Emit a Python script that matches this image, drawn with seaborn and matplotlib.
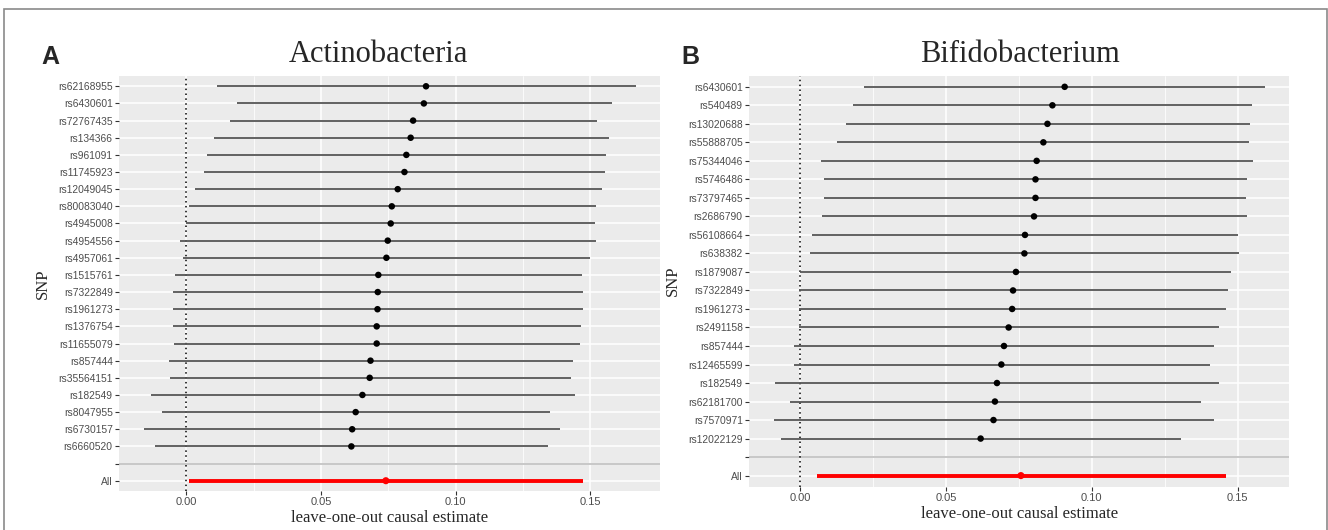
import numpy as np
import pandas as pd
import seaborn as sns
import matplotlib.pyplot as plt
from matplotlib.patches import Rectangle

# Panel A: Actinobacteria (leave-one-out estimates, top to bottom)
snp_a = ["rs62168955", "rs6430601", "rs72767435", "rs134366", "rs961091", "rs11745923",
         "rs12049045", "rs80083040", "rs4945008", "rs4954556", "rs4957061", "rs1515761",
         "rs7322849", "rs1961273", "rs1376754", "rs11655079", "rs857444", "rs35564151",
         "rs182549", "rs8047955", "rs6730157", "rs6660520"]
b_a = [0.0890, 0.0882, 0.0842, 0.0833, 0.0817, 0.0810, 0.0785, 0.0763, 0.0759, 0.0748, 0.0743,
       0.0713, 0.0711, 0.0710, 0.0707, 0.0707, 0.0684, 0.0681, 0.0654, 0.0629, 0.0616, 0.0613]
lo_a = [0.0114, 0.0188, 0.0161, 0.0103, 0.0079, 0.0068, 0.0032, 0.0009, 0.0001, -0.0024, -0.0011,
        -0.0041, -0.0048, -0.0048, -0.0047, -0.0046, -0.0063, -0.0060, -0.0130, -0.0088, -0.0156, -0.0114]
hi_a = [0.1668, 0.1579, 0.1524, 0.1568, 0.1558, 0.1554, 0.1541, 0.1520, 0.1518, 0.1522, 0.1498,
        0.1469, 0.1473, 0.1471, 0.1465, 0.1461, 0.1434, 0.1427, 0.1442, 0.1349, 0.1388, 0.1343]
all_a = (0.0741, 0.0012, 0.1473)

# Panel B: Bifidobacterium
snp_b = ["rs6430601", "rs540489", "rs13020688", "rs55888705", "rs75344046", "rs5746486",
         "rs73797465", "rs2686790", "rs56108664", "rs638382", "rs1879087", "rs7322849",
         "rs1961273", "rs2491158", "rs857444", "rs12465599", "rs182549", "rs62181700",
         "rs7570971", "rs12022129"]
b_b = [0.0907, 0.0865, 0.0848, 0.0834, 0.0811, 0.0807, 0.0807, 0.0802, 0.0771, 0.0769,
       0.0740, 0.0730, 0.0727, 0.0715, 0.0699, 0.0690, 0.0675, 0.0668, 0.0663, 0.0619]
lo_b = [0.0220, 0.0183, 0.0157, 0.0128, 0.0071, 0.0083, 0.0083, 0.0075, 0.0042, 0.0035,
        0.0001, -0.0002, -0.0002, -0.0005, -0.0021, -0.0021, -0.0086, -0.0035, -0.0091, -0.0066]
hi_b = [0.1594, 0.1550, 0.1543, 0.1540, 0.1551, 0.1531, 0.1530, 0.1531, 0.1500, 0.1503,
        0.1477, 0.1468, 0.1461, 0.1436, 0.1420, 0.1404, 0.1437, 0.1374, 0.1418, 0.1307]
all_b = (0.0757, 0.0059, 0.1459)

sns.set_theme(style="darkgrid", rc={"axes.facecolor": "#EBEBEB", "grid.color": "white"})
SERIF = ["Liberation Serif", "DejaVu Serif"]
SANS = ["Liberation Sans", "DejaVu Sans"]
plt.rcParams["font.family"] = SANS

fig = plt.figure(figsize=(13.28, 5.30), dpi=100)
fig.patches.append(Rectangle((4 / 1328, -0.05), 1323 / 1328, 1 - 9 / 530 + 0.05,
                             transform=fig.transFigure, fill=False, edgecolor="#8a8a8a", lw=1.2))


def draw_panel(rect, snps, b, lo, hi, overall, xlim, title, title_x, letter, letter_x):
    ax = fig.add_axes(rect)
    n = len(snps)
    df = pd.DataFrame({"SNP": snps, "b": b, "lo": lo, "hi": hi})
    df["pos"] = np.arange(n + 1, 1, -1)
    ax.axvline(0, color="black", ls=(0, (1, 2.2)), lw=1.1, zorder=2)
    ax.hlines(df["pos"], df["lo"], df["hi"], color="#555555", lw=1.3, zorder=3)
    sns.scatterplot(data=df, x="b", y="pos", ax=ax, color="black", s=22,
                    edgecolor="none", zorder=4, legend=False)
    ax.axhline(1, color="#BEBEBE", lw=1.2, zorder=1.5)
    ax.hlines([0], [overall[1]], [overall[2]], color="#FF0000", lw=2.8, zorder=3)
    sns.scatterplot(x=[overall[0]], y=[0], ax=ax, color="#FF0000", s=26,
                    edgecolor="none", zorder=4, legend=False)

    ax.set_xlim(*xlim)
    ax.set_ylim(-0.6, n + 1.6)
    ax.set_xticks([0, 0.05, 0.10, 0.15])
    ax.set_xticklabels(["0.00", "0.05", "0.10", "0.15"])
    ax.set_xticks([0.025, 0.075, 0.125], minor=True)
    ax.set_yticks([0, 1] + list(df["pos"]))
    ax.set_yticklabels(["All", ""] + snps)
    ax.grid(True, which="major", color="white", lw=1.1)
    ax.grid(True, which="minor", axis="x", color="white", lw=0.55)
    ax.tick_params(axis="both", which="major", bottom=True, left=True, length=3, width=0.8,
                   color="#333333", labelcolor="#4D4D4D", pad=1.5)
    ax.tick_params(axis="y", labelsize=7.4)
    ax.tick_params(axis="x", labelsize=8)
    ax.tick_params(which="minor", length=0)
    for s in ax.spines.values():
        s.set_visible(False)
    ax.set_xlabel("leave-one-out causal estimate", family=SERIF, fontsize=12, labelpad=2)
    ax.set_ylabel("SNP", family=SERIF, fontsize=12, labelpad=5)
    fig.text(title_x, 1 - 55 / 530, title, family=SERIF, fontsize=22,
             ha="center", va="center")
    fig.text(letter_x, 1 - 57 / 530, letter, fontsize=18, fontweight="bold",
             ha="left", va="center")
    return ax


draw_panel([119 / 1328, 1 - 491 / 530, 541 / 1328, 415 / 530], snp_a, b_a, lo_a, hi_a, all_a,
           (-0.0249, 0.1758), "Actinobacteria", 378 / 1328, "A", 41 / 1328)
draw_panel([749 / 1328, 1 - 486.7 / 530, 540.3 / 1328, 411 / 530], snp_b, b_b, lo_b, hi_b, all_b,
           (-0.0175, 0.1677), "Bifidobacterium", 1020 / 1328, "B", 681 / 1328)

fig.savefig("out.png", dpi=100)
